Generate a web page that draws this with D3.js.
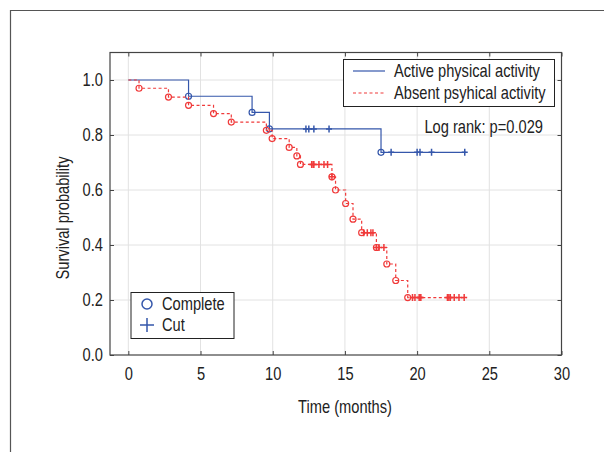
<!DOCTYPE html>
<html>
<head>
<meta charset="utf-8">
<script src="https://cdn.jsdelivr.net/npm/d3@7"></script>
<style>
  body { margin: 0; background: #fff; }
  text { font-family: 'Liberation Sans', Arial, sans-serif; fill: #222; }
</style>
</head>
<body>
<div id="chart"></div>
<script>
// Active physical activity: event times and survival after each event
var activeTimes = [4.17, 8.57, 9.77, 17.5]
var activeSurv = [0.941, 0.882, 0.822, 0.737]
var activeCensor = [12.3, 12.5, 12.85, 13.9, 18.2, 20.0, 20.2, 21.0, 23.3]
var activeEnd = 23.4

// Absent physical activity
var absentTimes = [0.74, 2.78, 4.17, 5.9, 7.13, 9.56, 9.96, 11.14, 11.67, 11.92, 14.1, 14.35, 15.05, 15.56, 16.16, 17.18, 17.9, 18.52, 19.35]
var absentSurv = [0.970, 0.938, 0.908, 0.878, 0.847, 0.817, 0.787, 0.755, 0.724, 0.693, 0.648, 0.600, 0.551, 0.494, 0.445, 0.391, 0.331, 0.271, 0.209]
var absentCensor = [12.7, 12.8, 12.85, 13.2, 13.55, 13.8, 14.1, 16.3, 16.55, 16.8, 16.94, 17.18, 17.36, 17.7, 19.68, 19.85, 20.14, 20.2, 20.26, 22.1, 22.2, 22.3, 22.57, 22.9, 23.26]
var absentEnd = 23.45

var xTicks = [0, 5, 10, 15, 20, 25, 30]
var yTicks = [0, 0.2, 0.4, 0.6, 0.8, 1.0]

var width = 604, height = 452
var blue = '#3557ab', red = '#f03a3a'
var squeeze = 0.815 // no condensed font installed, so narrow the glyphs

var svg = d3.select('#chart').append('svg')
  .attr('width', width)
  .attr('height', height)

// condensed text placed at x,y
function label(x, y, str, anchor, rotate) {
  return svg.append('text')
    .attr('transform', `translate(${x},${y})` + (rotate ? ` rotate(${rotate})` : '') + ` scale(${squeeze},1)`)
    .attr('text-anchor', anchor || 'start')
    .style('font-size', '18px')
    .text(str)
}

// outer frame
svg.append('path')
  .attr('d', 'M604,10.5H10.5V452')
  .style('fill', 'none')
  .style('stroke', '#555')
  .style('stroke-width', 1.2)

var xScale = d3.scaleLinear().domain([-1.27, 30]).range([110, 561.5])
var yScale = d3.scaleLinear().domain([0, 1.1]).range([355, 52.5])

// grid
var grid = svg.append('g').attr('class', 'grid')
grid.selectAll('.gx').data(xTicks).enter().append('line')
  .attr('x1', d => xScale(d)).attr('x2', d => xScale(d))
  .attr('y1', yScale(0)).attr('y2', yScale(1.1))
  .style('stroke', '#e2e2e2')
grid.selectAll('.gy').data(yTicks.slice(1)).enter().append('line')
  .attr('x1', xScale(-1.27)).attr('x2', xScale(30))
  .attr('y1', d => yScale(d)).attr('y2', d => yScale(d))
  .style('stroke', '#e2e2e2')

// axes (ticks inward on all four sides)
var xAxis = d3.axisBottom(xScale).tickValues(xTicks).tickSize(-4).tickPadding(12)
var yAxis = d3.axisLeft(yScale).tickValues(yTicks).tickSize(-4).tickPadding(7).tickFormat(d3.format('.1f'))

svg.append('g')
  .attr('transform', `translate(0,${yScale(0)})`)
  .call(xAxis)
  .call(g => g.select('.domain').remove())
  .selectAll('text')
  .style('font-size', '18px')
  .attr('transform', `scale(${squeeze},1)`)

svg.append('g')
  .attr('transform', `translate(${xScale(-1.27)},0)`)
  .call(yAxis)
  .call(g => g.select('.domain').remove())
  .selectAll('text')
  .style('font-size', '18px')
  .attr('x', -7 / squeeze)
  .attr('transform', `scale(${squeeze},1)`)

svg.append('g')
  .attr('transform', `translate(0,${yScale(1.1)})`)
  .call(d3.axisTop(xScale).tickValues(xTicks).tickSize(-4).tickFormat(''))
  .call(g => g.select('.domain').remove())

svg.append('g')
  .attr('transform', `translate(${xScale(30)},0)`)
  .call(d3.axisRight(yScale).tickValues(yTicks).tickSize(-4).tickFormat(''))
  .call(g => g.select('.domain').remove())

svg.selectAll('.tick line').style('stroke', '#444')

svg.append('rect')
  .attr('x', xScale(-1.27)).attr('y', yScale(1.1))
  .attr('width', xScale(30) - xScale(-1.27))
  .attr('height', yScale(0) - yScale(1.1))
  .style('fill', 'none')
  .style('stroke', '#444')
  .style('stroke-width', 1.2)

// axis titles
label(345, 413, 'Time (months)', 'middle')
label(69, 218, 'Survival probability', 'middle', -90)

// step curves
function stepPoints(times, surv, end) {
  var pts = [[0, 1]]
  times.forEach((t, i) => { pts.push([t, i === 0 ? 1 : surv[i - 1]]); pts.push([t, surv[i]]) })
  pts.push([end, surv[surv.length - 1]])
  return pts
}
function survAt(times, surv, t) {
  var s = 1
  times.forEach((tt, i) => { if (tt <= t) s = surv[i] })
  return s
}

var line = d3.line().x(d => xScale(d[0])).y(d => yScale(d[1]))

function drawGroup(times, surv, censor, end, color, dash) {
  var g = svg.append('g')
  g.append('path')
    .attr('d', line(stepPoints(times, surv, end)))
    .style('fill', 'none')
    .style('stroke', color)
    .style('stroke-width', 1.2)
    .style('stroke-dasharray', dash)
  g.selectAll('.ev').data(times).enter().append('circle')
    .attr('cx', d => xScale(d))
    .attr('cy', (d, i) => yScale(surv[i]))
    .attr('r', 3)
    .style('fill', 'none')
    .style('stroke', color)
    .style('stroke-width', 1.2)
  g.selectAll('.cs').data(censor).enter().append('path')
    .attr('d', d => {
      var x = xScale(d), y = yScale(survAt(times, surv, d))
      return `M${x - 3},${y}H${x + 3}M${x},${y - 3.5}V${y + 3.5}`
    })
    .style('stroke', color)
    .style('stroke-width', 1.5)
}

drawGroup(activeTimes, activeSurv, activeCensor, activeEnd, blue, null)
drawGroup(absentTimes, absentSurv, absentCensor, absentEnd, red, '3,2.5')

// legend 1
svg.append('rect').attr('x', 343.5).attr('y', 59.5).attr('width', 211).attr('height', 47)
  .style('fill', '#fff').style('stroke', '#222')
svg.append('line').attr('x1', 353).attr('x2', 385).attr('y1', 71).attr('y2', 71)
  .style('stroke', blue).style('stroke-width', 1.2)
svg.append('line').attr('x1', 353).attr('x2', 385).attr('y1', 93).attr('y2', 93)
  .style('stroke', red).style('stroke-width', 1.2).style('stroke-dasharray', '3,2.5')
label(394, 77, 'Active physical activity')
label(394, 99, 'Absent psyhical activity')

label(543, 133, 'Log rank: p=0.029', 'end')

// legend 2
svg.append('rect').attr('x', 131).attr('y', 292.5).attr('width', 103).attr('height', 46)
  .style('fill', '#fff').style('stroke', '#222')
svg.append('circle').attr('cx', 147).attr('cy', 304).attr('r', 5)
  .style('fill', 'none').style('stroke', blue).style('stroke-width', 1.5)
svg.append('path').attr('d', 'M140,325H154M147,318V332')
  .style('stroke', blue).style('stroke-width', 1.5)
label(162, 310, 'Complete')
label(162, 331, 'Cut')
</script>
</body>
</html>
